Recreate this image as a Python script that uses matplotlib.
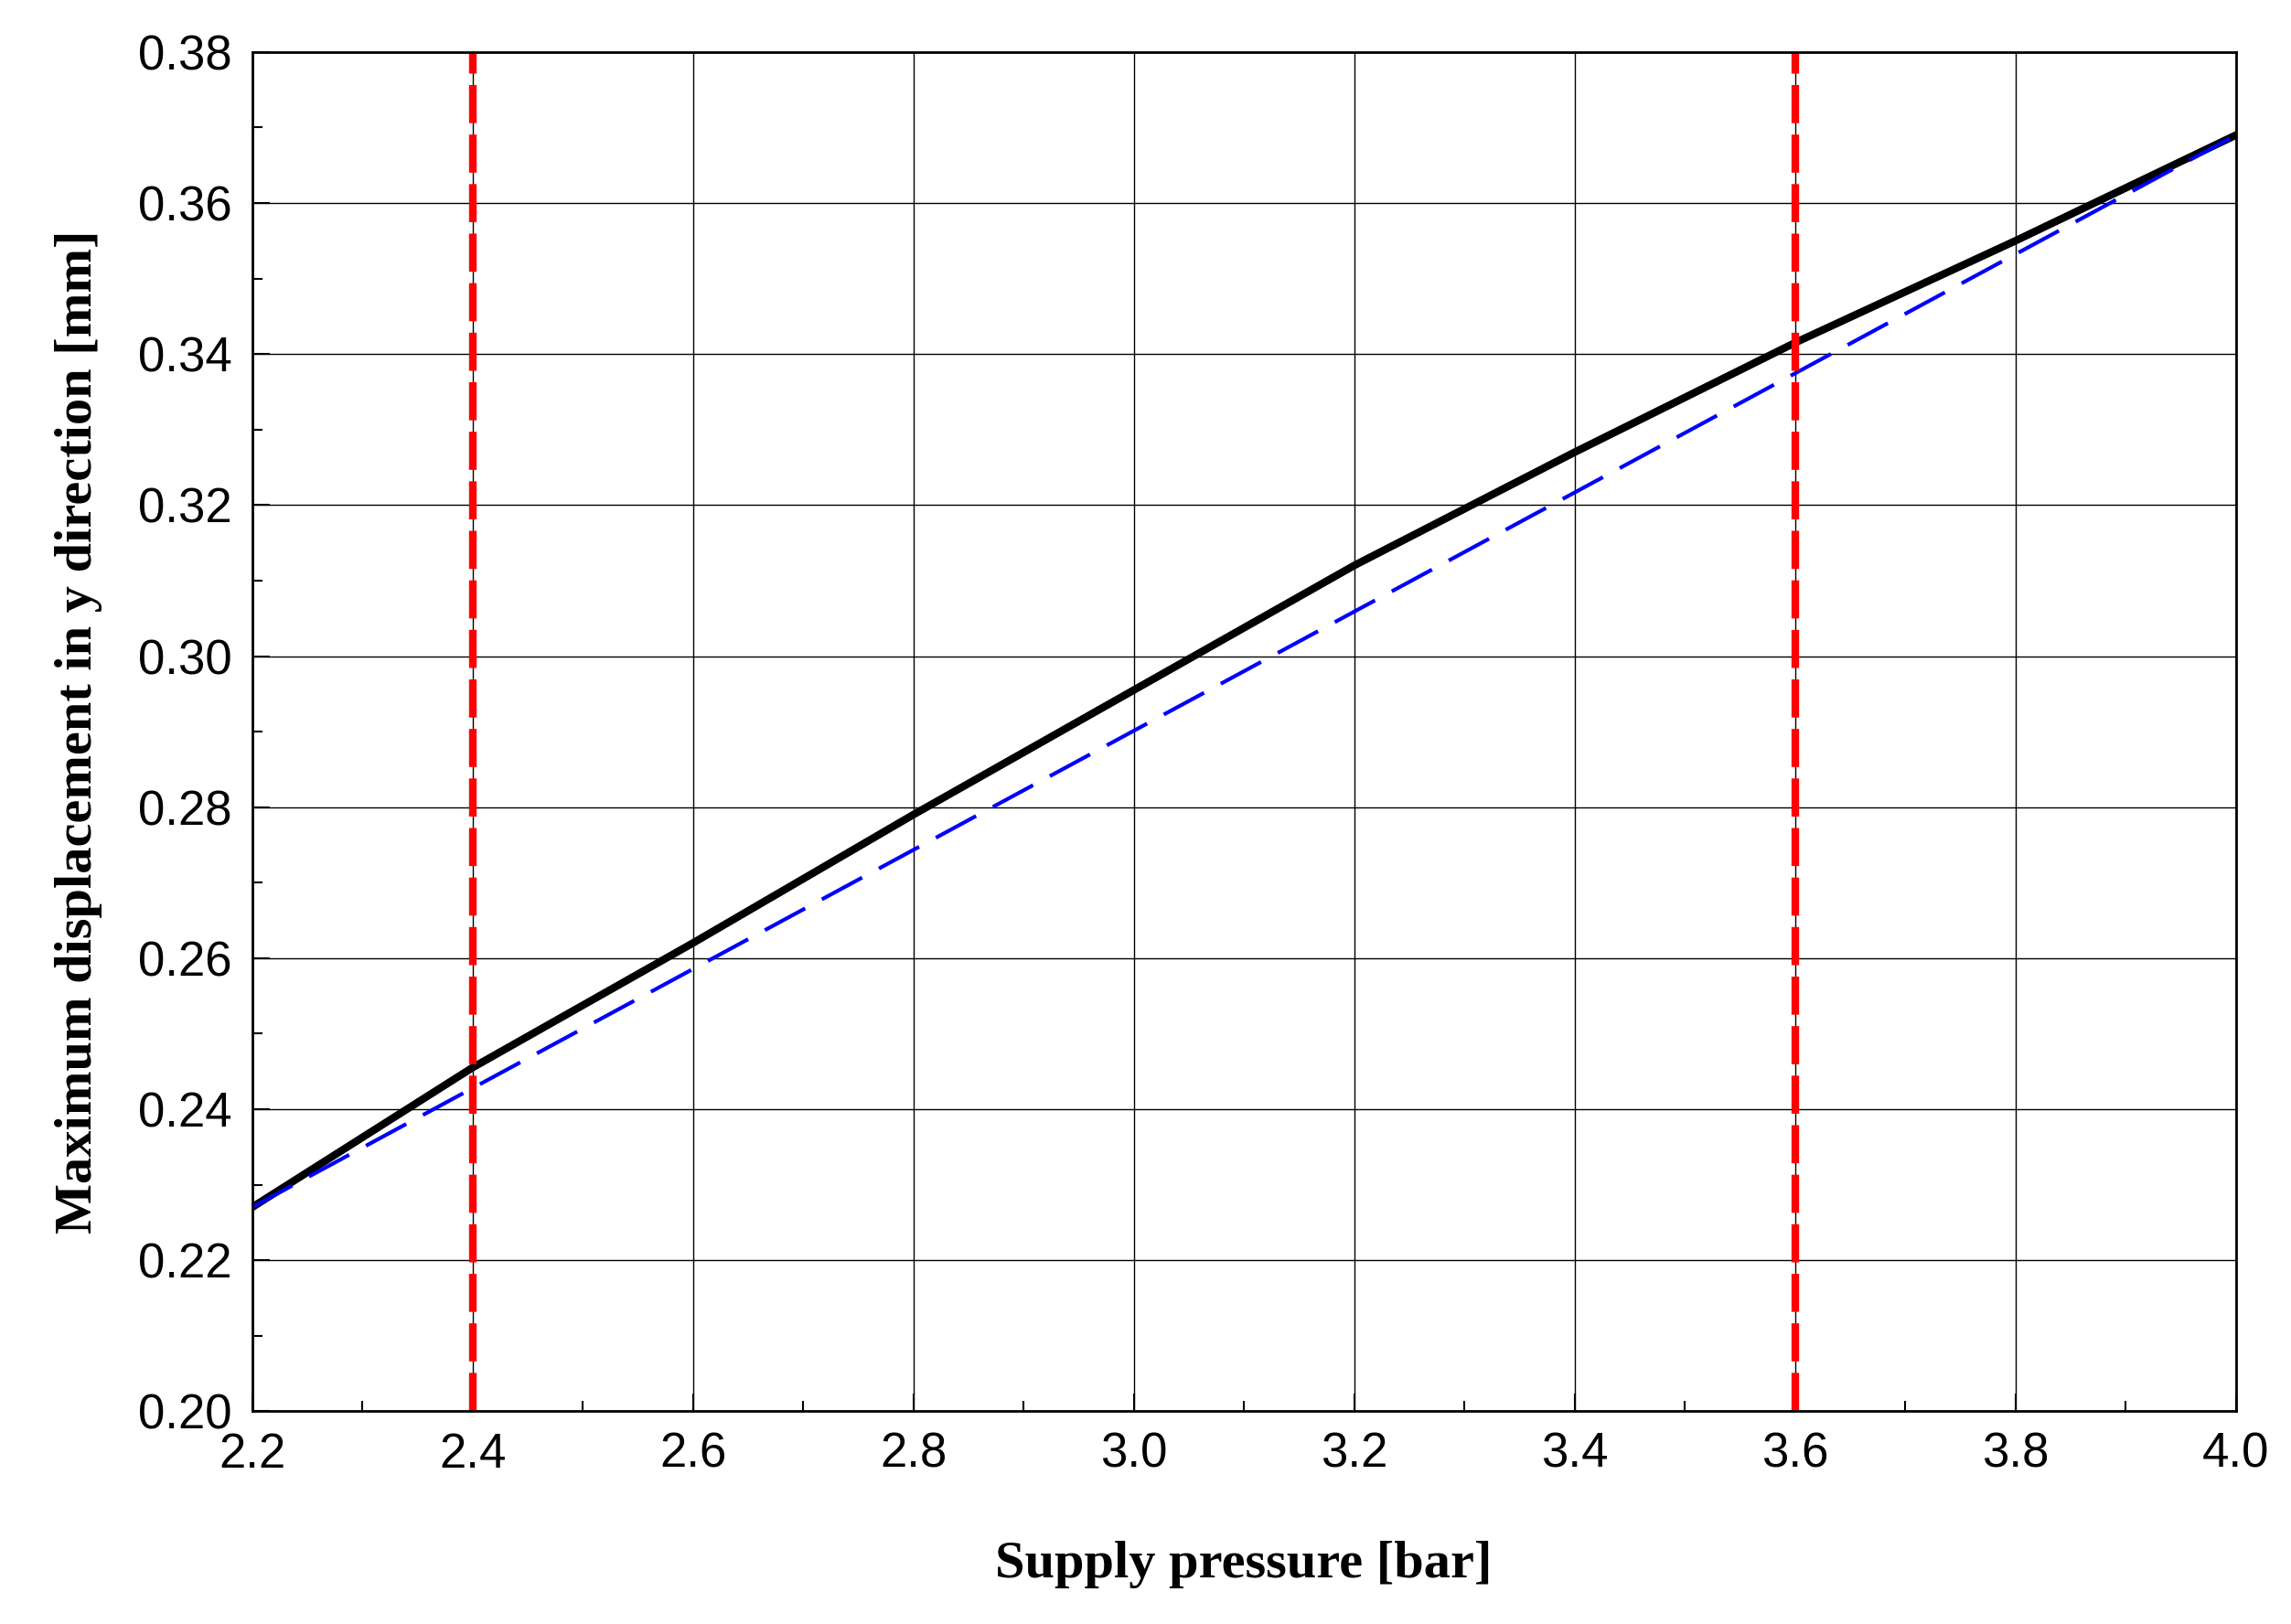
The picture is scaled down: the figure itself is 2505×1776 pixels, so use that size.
import matplotlib
matplotlib.use('Agg')
import matplotlib.pyplot as plt
from matplotlib.ticker import MultipleLocator

pressure = [2.2, 2.4, 2.6, 2.8, 3.0, 3.2, 3.4, 3.6, 3.8, 4.0]
disp_model = [0.227, 0.2455, 0.262, 0.279, 0.2955, 0.312, 0.327, 0.3415, 0.355, 0.369]
lin_p = [2.2, 4.0]
lin_disp = [0.227, 0.369]
limits = [2.4, 3.6]

fig = plt.figure(figsize=(25.05, 17.76), dpi=100)
ax = fig.add_axes([0.110, 0.131, 0.866, 0.837])

ax.grid(True, color='black', linewidth=1.0)
ax.set_axisbelow(True)
ax.plot(pressure, disp_model, color='black', linewidth=6)
ax.plot(lin_p, lin_disp, color='blue', linewidth=3, dashes=(12, 5))
for x in limits:
    ax.axvline(x, color='red', linewidth=6, dashes=(5, 1.5))

ax.set_xlim(2.2, 4.0)
ax.set_ylim(0.20, 0.38)
ax.xaxis.set_major_locator(MultipleLocator(0.2))
ax.xaxis.set_minor_locator(MultipleLocator(0.1))
ax.yaxis.set_major_locator(MultipleLocator(0.02))
ax.yaxis.set_minor_locator(MultipleLocator(0.01))
ax.tick_params(which='both', direction='in', top=False, right=False,
               width=1.5, labelsize=38, pad=16)
ax.tick_params(which='major', length=14)
ax.tick_params(which='minor', length=8)
ax.xaxis.set_major_formatter(plt.FuncFormatter(lambda v, p: '%.1f' % v))
ax.yaxis.set_major_formatter(plt.FuncFormatter(lambda v, p: '%.2f' % v))
for lab in ax.get_xticklabels() + ax.get_yticklabels():
    lab.set_family('Liberation Sans')
for s in ax.spines.values():
    s.set_linewidth(2)

ax.set_xlabel('Supply pressure [bar]', fontsize=42, fontweight='bold',
              family='Liberation Serif', labelpad=50)
ax.set_ylabel('Maximum displacement in y direction [mm]', fontsize=42,
              fontweight='bold', family='Liberation Serif', labelpad=28)

fig.savefig('out.png', dpi=100, facecolor='white')
